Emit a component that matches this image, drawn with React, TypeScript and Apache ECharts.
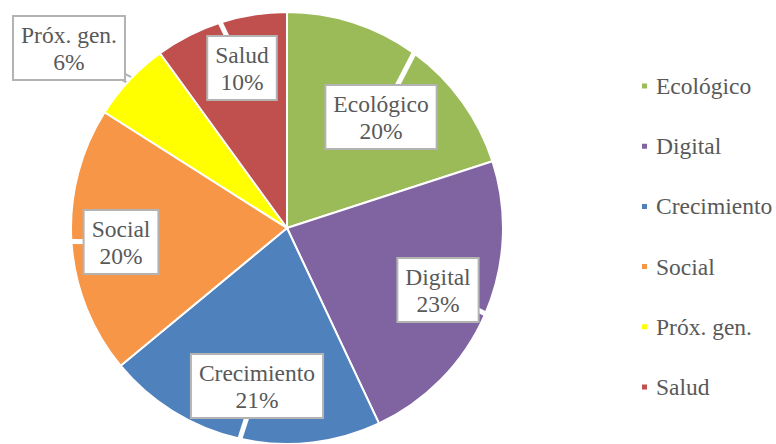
import React, { useEffect, useRef } from "react";
import * as echarts from "echarts";

const categories = ["Ecológico", "Digital", "Crecimiento", "Social", "Próx. gen.", "Salud"];
const values = [20, 23, 21, 20, 6, 10];
const colors = ["#9BBB59", "#8064A2", "#4F81BD", "#F79646", "#FFFF00", "#C0504D"];

// label box centres (layout only)
const labelCenters: [number, number][] = [
  [381, 117],
  [438, 290],
  [257, 386],
  [121, 242],
  [69, 48],
  [242, 68],
];

const FONT = "'Liberation Serif', serif";
const TEXT = "#595959";

export default function App() {
  const ref = useRef<HTMLDivElement>(null);
  useEffect(() => {
    if (!ref.current) return;
    const chart = echarts.init(ref.current, undefined, { renderer: "svg" });
    const data = categories.map((name, i) => ({
      name,
      value: values[i],
      itemStyle: { color: colors[i] },
    }));
    const layout = (params: any) => {
      const p = labelCenters[params.dataIndex];
      const start = params.labelLinePoints ? params.labelLinePoints[0] : p;
      return {
        x: p[0],
        y: p[1],
        align: "center",
        verticalAlign: "middle",
        labelLinePoints: [start, p, p],
      };
    };
    chart.setOption({
      animation: false,
      textStyle: { fontFamily: FONT },
      legend: {
        orient: "vertical",
        left: 635,
        top: 69,
        itemWidth: 7,
        itemHeight: 7,
        itemGap: 36.2,
        icon: "rect",
        data: categories,
        textStyle: {
          fontFamily: FONT,
          fontSize: 23.5,
          color: TEXT,
          lineHeight: 22,
          padding: [0, 0, 0, 3],
        },
      },
      series: [
        {
          type: "pie",
          z: 2,
          center: [287, 228],
          radius: [0, 216],
          startAngle: 90,
          clockwise: true,
          avoidLabelOverlap: false,
          data,
          itemStyle: { borderColor: "#ffffff", borderWidth: 2 },
          label: {
            show: true,
            position: "outside",
            formatter: " ",
            fontSize: 4,
          },
          labelLine: {
            show: true,
            length: 0,
            length2: 0,
            lineStyle: { color: "#b3b3b3", width: 9 },
          },
          labelLayout: layout,
          emphasis: { disabled: true },
        },
        {
          type: "pie",
          z: 3,
          silent: true,
          center: [287, 228],
          radius: [0, 216],
          startAngle: 90,
          clockwise: true,
          avoidLabelOverlap: false,
          data: categories.map((name, i) => ({ name, value: values[i] })),
          itemStyle: { color: "rgba(0,0,0,0)", borderWidth: 0 },
          label: {
            show: true,
            position: "outside",
            formatter: (p: any) => `${p.name}\n${p.value}%`,
            fontFamily: FONT,
            fontSize: 23.5,
            lineHeight: 27,
            color: TEXT,
            backgroundColor: "#ffffff",
            borderColor: "#b3b3b3",
            borderWidth: 2,
            padding: [4, 7, 4, 7],
          },
          labelLine: {
            show: true,
            length: 0,
            length2: 0,
            lineStyle: { color: "#ffffff", width: 5 },
          },
          labelLayout: layout,
          emphasis: { disabled: true },
        },
      ],
    });
    return () => chart.dispose();
  }, []);
  return <div ref={ref} style={{ width: 776, height: 444, position: "absolute", left: 0, top: 0 }} />;
}
